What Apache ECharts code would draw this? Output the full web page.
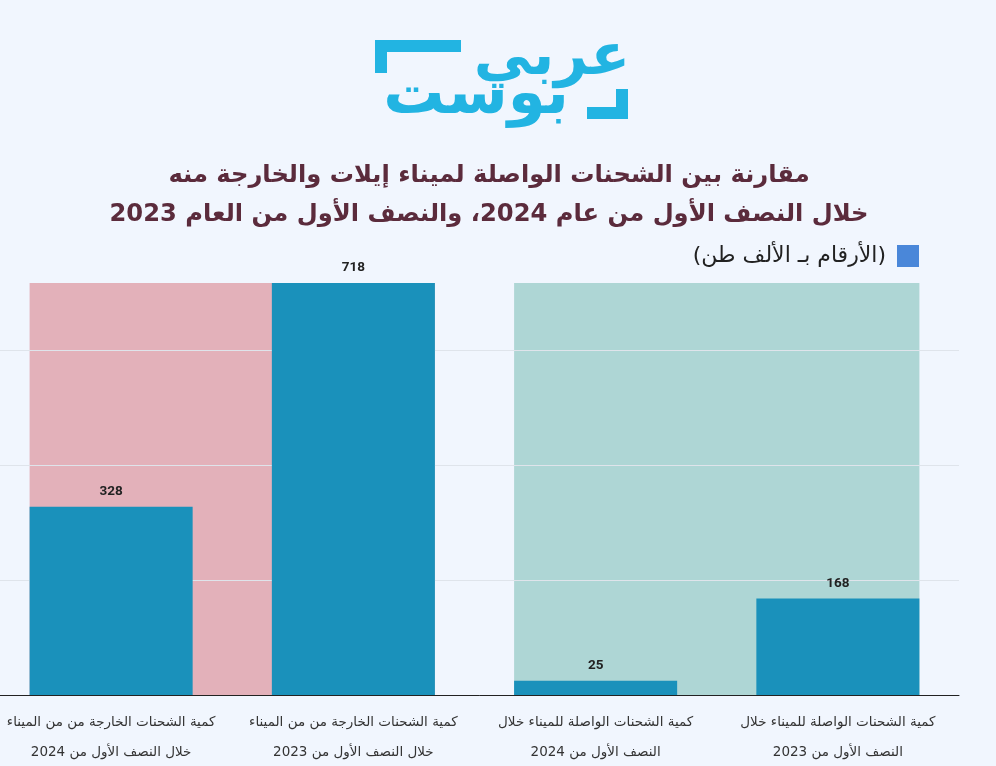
<!DOCTYPE html>
<html><head><meta charset="utf-8">
<script src="https://cdn.jsdelivr.net/npm/echarts@6/dist/echarts.min.js"></script>
<style>html,body{margin:0;padding:0;background:#f1f6fe}#c{width:996px;height:766px}</style>
</head><body><div id="c"></div>
<script>
const categories = [
  "كمية الشحنات الخارجة من من الميناء\nخلال النصف الأول من 2024",
  "كمية الشحنات الخارجة من من الميناء\nخلال النصف الأول من 2023",
  "كمية الشحنات الواصلة للميناء خلال\nالنصف الأول من 2024",
  "كمية الشحنات الواصلة للميناء خلال\nالنصف الأول من 2023"
];
const values = [328, 718, 25, 168];
const seriesName = "(الأرقام بـ الألف طن)";
const titleLines = ["مقارنة بين الشحنات الواصلة لميناء إيلات والخارجة منه", "خلال النصف الأول من عام 2024، والنصف الأول من العام 2023"];
// background groups: [firstCategoryIndex, lastCategoryIndex, colour]
const bgGroups = [[0, 1, "#e3b1ba"], [2, 3, "#aed6d5"]];
const yMax = 718;
const barFrac = 0.673;

const chart = echarts.init(document.getElementById('c'));
chart.setOption({
  backgroundColor: '#f1f6fe',
  animation: false,
  title: {
    text: titleLines.join('\n'),
    left: 484, top: 151, textAlign: 'center',
    textStyle: {fontFamily: 'DejaVu Sans', fontWeight: 'bold', fontSize: 24.2, color: '#5b2b3c', lineHeight: 39}
  },
  legend: {
    right: 72, top: 240, align: 'right', itemWidth: 22, itemHeight: 22, itemGap: 12,
    icon: 'rect',
    data: [{name: seriesName, itemStyle: {color: '#4a87d9'}}],
    textStyle: {fontFamily: 'DejaVu Sans', fontSize: 22, color: '#222', padding: [0, 6, 0, 0]}
  },
  graphic: [
    {type: 'group', left: 375, top: 30, children: [
      {type: 'rect', shape: {x: 0, y: 3, width: 86, height: 12}, style: {fill: '#22b4e2'}},
      {type: 'rect', shape: {x: 0, y: 3, width: 12, height: 33}, style: {fill: '#22b4e2'}},
      {type: 'rect', shape: {x: 241, y: 52, width: 12, height: 30}, style: {fill: '#22b4e2'}},
      {type: 'rect', shape: {x: 212, y: 70, width: 41, height: 12}, style: {fill: '#22b4e2'}},
      {type: 'text', style: {text: 'عربي', x: 255, y: 22, align: 'right', verticalAlign: 'middle', font: 'bold 58px "DejaVu Sans"', fill: '#22b4e2'}},
      {type: 'text', style: {text: 'بوست', x: 194, y: 60, align: 'right', verticalAlign: 'middle', font: 'bold 61px "DejaVu Sans"', fill: '#22b4e2'}}
    ]}
  ],
  grid: {left: -10, right: 37, top: 283, bottom: 71, containLabel: false, outerBoundsMode: 'none'},
  xAxis: {
    type: 'category', data: categories,
    axisLine: {lineStyle: {color: '#222', width: 1}},
    axisTick: {alignWithLabel: true, length: 6, lineStyle: {color: '#444'}},
    axisLabel: {fontFamily: 'DejaVu Sans', fontSize: 13.5, color: '#333', lineHeight: 30, margin: 12, interval: 0}
  },
  yAxis: {
    type: 'value', min: 0, max: yMax, interval: 200,
    axisLabel: {show: false}, axisLine: {show: false}, axisTick: {show: false},
    splitLine: {show: true, showMaxLine: false, lineStyle: {color: '#dfe4eb', width: 1}}
  },
  series: [
    {
      type: 'custom', z: -1, silent: true,
      data: bgGroups.map(g => [g[0], g[1], yMax]),
      renderItem: function (params, api) {
        const g = bgGroups[params.dataIndex];
        const bw = api.size([1, 0])[0] * barFrac;
        const p0 = api.coord([api.value(0), api.value(2)]);
        const p1 = api.coord([api.value(1), 0]);
        return {type: 'rect', shape: {x: p0[0] - bw / 2, y: p0[1], width: p1[0] - p0[0] + bw, height: p1[1] - p0[1]}, style: {fill: g[2]}};
      }
    },
    {
      name: seriesName, type: 'bar', data: values, barWidth: (barFrac * 100) + '%',
      itemStyle: {color: '#1a91bb'},
      label: {show: true, position: 'top', distance: 8, fontFamily: 'Roboto', fontWeight: 'bold', fontSize: 13.5, color: '#222'}
    }
  ]
});
</script></body></html>
